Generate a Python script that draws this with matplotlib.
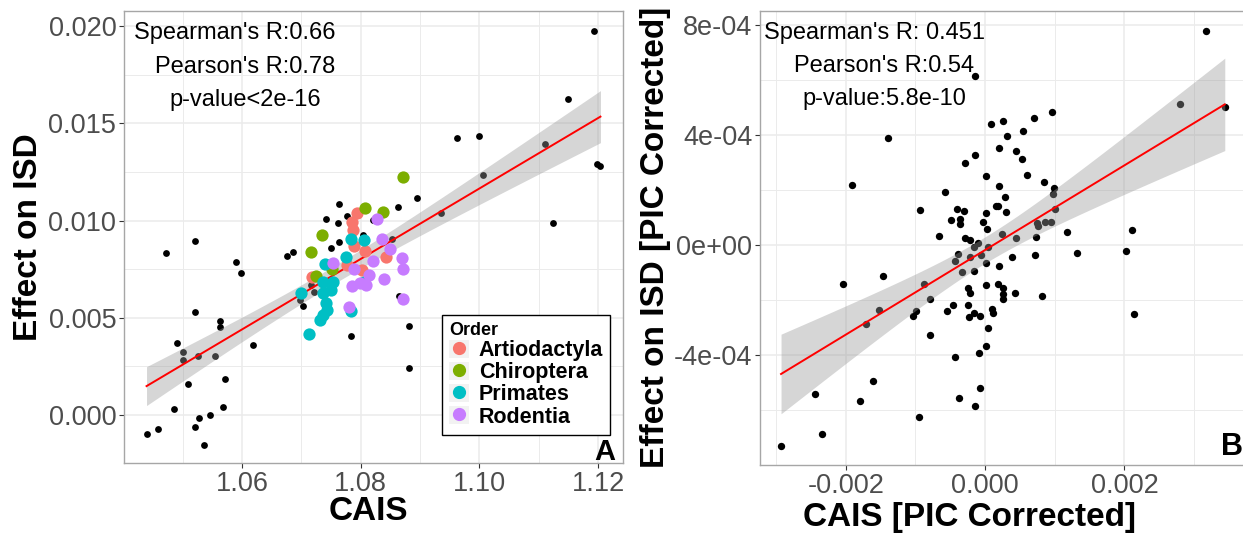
import numpy as np
import matplotlib
matplotlib.use('Agg')
import matplotlib.pyplot as plt
from matplotlib.lines import Line2D
from matplotlib.patches import Patch
from matplotlib.legend_handler import HandlerTuple
from matplotlib.ticker import MultipleLocator, FixedLocator, FixedFormatter, FormatStrFormatter

# ---- Panel A: raw values (black = other species) ----
cais_other = [1.0521, 1.0471, 1.0590, 1.0598, 1.0676, 1.0686, 1.0750, 1.0764, 1.0804, 1.0520,
              1.0562, 1.0562, 1.0491, 1.0501, 1.0501, 1.0526, 1.0554, 1.0619, 1.0509, 1.0572,
              1.0486, 1.0568, 1.0546, 1.0527, 1.0520, 1.0459, 1.0439, 1.0536, 1.0697, 1.0703,
              1.0721, 1.0716, 1.0783, 1.0763, 1.0741, 1.0762, 1.0776, 1.0894, 1.0862, 1.0820,
              1.0853, 1.0864, 1.0881, 1.0881, 1.1193, 1.1149, 1.0963, 1.0999, 1.1110, 1.1199,
              1.1204, 1.1006, 1.0935, 1.1124]
isd_other = [0.00895, 0.00834, 0.00785, 0.00730, 0.00817, 0.00840, 0.00859, 0.00889, 0.00927, 0.00528,
             0.00483, 0.00452, 0.00372, 0.00324, 0.00281, 0.00303, 0.00303, 0.00358, 0.00161, 0.00184,
             0.00031, 0.00041, -0.00002, -0.00015, -0.00060, -0.00074, -0.00096, -0.00156, 0.00591, 0.00559,
             0.00631, 0.00667, 0.00405, 0.01083, 0.01009, 0.00989, 0.01023, 0.01116, 0.01071, 0.01003,
             0.00906, 0.00612, 0.00458, 0.00243, 0.01974, 0.01625, 0.01424, 0.01433, 0.01392, 0.01290,
             0.01282, 0.01235, 0.01037, 0.00989]

# coloured orders
order_names = ['Artiodactyla', 'Chiroptera', 'Primates', 'Rodentia']
order_colors = ['#F8766D', '#7CAE00', '#00BFC4', '#C77CFF']
artio_x = [1.0793, 1.0786, 1.0787, 1.0788, 1.0808, 1.0776, 1.0802, 1.0842, 1.0718]
artio_y = [0.01041, 0.00994, 0.00949, 0.00869, 0.00845, 0.00771, 0.00746, 0.00810, 0.00708]
chiro_x = [1.0871, 1.0808, 1.0838, 1.0735, 1.0716, 1.0751, 1.0725]
chiro_y = [0.01224, 0.01062, 0.01045, 0.00925, 0.00839, 0.00752, 0.00717]
prim_x = [1.0783, 1.0806, 1.0775, 1.0739, 1.0806, 1.0736, 1.0753, 1.0750, 1.0736, 1.0700,
          1.0741, 1.0743, 1.0736, 1.0732, 1.0713, 1.0784]
prim_y = [0.00904, 0.00902, 0.00810, 0.00778, 0.00686, 0.00683, 0.00686, 0.00641, 0.00626, 0.00629,
          0.00577, 0.00542, 0.00514, 0.00487, 0.00416, 0.00533]
rod_x = [1.0828, 1.0836, 1.0849, 1.0820, 1.0870, 1.0871, 1.0814, 1.0839, 1.0785, 1.0798,
         1.0809, 1.0754, 1.0781, 1.0871, 1.0789]
rod_y = [0.01010, 0.00907, 0.00852, 0.00794, 0.00806, 0.00750, 0.00722, 0.00699, 0.00663, 0.00677,
         0.00666, 0.00783, 0.00553, 0.00595, 0.00749]

stats_a = ["Spearman's R:0.66", "Pearson's R:0.78", "p-value<2e-16"]

# ---- Panel B: PIC corrected values (x in 1e-3, y in 1e-4) ----
pic_cais_e3 = [-0.141, -1.386, 0.089, 0.251, 0.697, 0.955, 0.546, 0.313, 0.194, 0.441,
               -0.151, -0.287, 0.532, 0.007, 0.606, 0.851, 0.989, 0.207, -0.579, 0.287,
               0.977, -0.927, -0.402, -0.299, 0.151, 0.187, 0.302, 1.010, 0.017, -0.491,
               -0.366, -0.359, -0.033, 0.033, 0.749, 0.757, 0.855, 0.941, 1.171, -0.659,
               -0.283, -0.223, -0.098, -0.161, 0.046, 0.441, 0.733, 0.247, 2.109, 1.326,
               0.718, 0.389, -0.388, -0.434, -0.223, -0.065, 0.007, 0.194, -0.326, -0.161,
               -0.882, 0.017, 0.180, 0.260, -0.249, -0.211, 0.256, 0.427, 0.818, -0.787,
               0.254, -0.467, -0.546, -0.251, -0.161, -0.227, -0.075, 0.101, 0.108, -0.994,
               -1.034, 0.043, -0.790, 0.007, -0.089, -0.428, -0.075, -0.372, -0.148, -0.953,
               -2.043, -1.468, -1.707, -1.526, -2.440, -1.606, -1.799, -2.339, -2.928, 3.168,
               2.795, 3.441, -1.914, 2.029, 2.134]
pic_isd_e4 = [6.16, 3.88, 4.40, 4.50, 4.60, 4.83, 4.15, 3.95, 3.53, 3.43,
              3.27, 2.97, 3.13, 2.52, 2.55, 2.30, 2.07, 2.13, 1.91, 1.73,
              1.86, 1.29, 1.30, 1.22, 1.41, 1.42, 1.19, 1.30, 1.15, 0.92,
              0.95, 0.76, 0.84, 0.59, 0.80, 0.69, 0.84, 0.84, 0.47, 0.31,
              0.25, 0.17, 0.06, -0.06, -0.06, 0.26, 0.29, 0.39, 0.56, -0.30,
              -0.37, -0.43, -0.33, -0.57, -0.45, -0.37, -0.64, -0.75, -0.97, -0.93,
              -1.43, -1.44, -1.43, -1.55, -1.57, -1.76, -1.79, -1.73, -1.87, -1.96,
              -1.97, -2.19, -2.39, -2.19, -2.46, -2.62, -2.58, -2.31, -2.48, -2.39,
              -2.58, -3.01, -3.27, -3.66, -3.92, -4.07, -5.21, -5.56, -5.85, -6.25,
              -1.41, -1.12, -2.87, -2.35, -5.41, -4.95, -5.67, -6.86, -7.30, 7.78,
              5.12, 5.02, 2.19, -0.21, -2.52]

stats_b = ["Spearman's R: 0.451", "Pearson's R:0.54", "p-value:5.8e-10"]
b_yticks = [-4e-4, 0, 4e-4, 8e-4]
b_yticklabels = ['-4e-04', '0e+00', '4e-04', '8e-04']

plt.rcParams['font.family'] = ['Liberation Sans', 'DejaVu Sans']
plt.rcParams['axes.unicode_minus'] = False

TICK_SIZE = 19.5
LABEL_SIZE = 24
STAT_SIZE = 17


def add_lm_fit(ax, x, y, t_crit=1.98):
    # linear model with 95% confidence band, like geom_smooth(method='lm')
    slope, intercept = np.polyfit(x, y, 1)
    xs = np.linspace(x.min(), x.max(), 80)
    fit = intercept + slope * xs
    resid = y - (intercept + slope * x)
    n = len(x)
    s = np.sqrt(np.sum(resid ** 2) / (n - 2))
    se = s * np.sqrt(1.0 / n + (xs - x.mean()) ** 2 / np.sum((x - x.mean()) ** 2))
    ax.fill_between(xs, fit - t_crit * se, fit + t_crit * se, color='#999999', alpha=0.4, lw=0, zorder=3)
    ax.plot(xs, fit, color='red', lw=1.4, zorder=4)


def style_axes(ax):
    ax.grid(which='major', color='#EBEBEB', lw=1.1, zorder=0)
    ax.grid(which='minor', color='#EBEBEB', lw=0.7, zorder=0)
    ax.set_axisbelow(True)
    ax.tick_params(which='major', length=3.5, width=0.8, color='#333333',
                   labelcolor='#4D4D4D', labelsize=TICK_SIZE, pad=2)
    ax.tick_params(which='minor', length=0)
    for sp in ax.spines.values():
        sp.set_color('#A6A6A6')
        sp.set_linewidth(1.0)


fig = plt.figure(figsize=(12.43, 5.33), dpi=100)

# ---------------- Panel A ----------------
axA = fig.add_axes([124 / 1243, 70 / 533, 499 / 1243, 452.3 / 533])
xa = np.array(cais_other + artio_x + chiro_x + prim_x + rod_x)
ya = np.array(isd_other + artio_y + chiro_y + prim_y + rod_y)

axA.scatter(cais_other, isd_other, s=24, color='black', lw=0, zorder=2)
add_lm_fit(axA, xa, ya)
for name, col, xs_, ys_ in zip(order_names, order_colors,
                               [artio_x, chiro_x, prim_x, rod_x],
                               [artio_y, chiro_y, prim_y, rod_y]):
    axA.scatter(xs_, ys_, s=78, color=col, lw=0, zorder=5)

axA.set_xlim(1.0401, 1.1242)
axA.set_ylim(-0.00247, 0.02079)
axA.xaxis.set_major_locator(MultipleLocator(0.02))
axA.xaxis.set_minor_locator(MultipleLocator(0.01))
axA.yaxis.set_major_locator(MultipleLocator(0.005))
axA.yaxis.set_minor_locator(MultipleLocator(0.0025))
axA.xaxis.set_major_formatter(FormatStrFormatter('%.2f'))
axA.yaxis.set_major_formatter(FormatStrFormatter('%.3f'))
style_axes(axA)
axA.set_xlabel('CAIS', fontsize=LABEL_SIZE, fontweight='bold', va='center')
axA.set_ylabel('Effect on ISD', fontsize=LABEL_SIZE, fontweight='bold', va='center')
axA.xaxis.set_label_coords(0.49, -0.108)
axA.yaxis.set_label_coords(-0.192, 0.5)

for txt, px, py in zip(stats_a, [0.2224, 0.2425, 0.2439], [0.9507, 0.8755, 0.8026]):
    axA.text(px, py, txt, transform=axA.transAxes, ha='center', va='center', fontsize=STAT_SIZE, zorder=6)
axA.text(0.964, 0.024, 'A', transform=axA.transAxes, ha='center', va='center',
         fontsize=21, fontweight='bold', zorder=6)

handles = [(Patch(facecolor='#F2F2F2', edgecolor='none'),
            Line2D([], [], ls='', marker='o', ms=8.5, mfc=c, mec=c)) for c in order_colors]
leg = axA.legend(handles, order_names, handler_map={tuple: HandlerTuple(ndivide=1)},
                 title='Order', loc='upper left', bbox_to_anchor=(0.6367, 0.3272),
                 frameon=True, fancybox=False, edgecolor='black', framealpha=1,
                 prop={'weight': 'bold', 'size': 15.5},
                 title_fontproperties={'weight': 'bold', 'size': 13},
                 alignment='left', handlelength=0.95, handleheight=0.95,
                 handletextpad=0.45, labelspacing=0.02, borderpad=0.33, borderaxespad=0)
leg.get_frame().set_linewidth(1.0)
leg.set_zorder(10)

# ---------------- Panel B ----------------
axB = fig.add_axes([760 / 1243, 68 / 533, 487 / 1243, 454.3 / 533])
xb = np.array(pic_cais_e3) * 1e-3
yb = np.array(pic_isd_e4) * 1e-4
axB.scatter(xb, yb, s=28, color='black', lw=0, zorder=2)
add_lm_fit(axB, xb, yb)

axB.set_xlim(-0.00323, 0.00376)
axB.set_ylim(-8.0e-4, 8.52e-4)
axB.xaxis.set_major_locator(MultipleLocator(0.002))
axB.xaxis.set_minor_locator(MultipleLocator(0.001))
axB.xaxis.set_major_formatter(FormatStrFormatter('%.3f'))
axB.yaxis.set_major_locator(FixedLocator(b_yticks))
axB.yaxis.set_major_formatter(FixedFormatter(b_yticklabels))
axB.yaxis.set_minor_locator(MultipleLocator(2e-4))
style_axes(axB)
axB.set_xlabel('CAIS [PIC Corrected]', fontsize=LABEL_SIZE, fontweight='bold', va='center')
axB.set_ylabel('Effect on ISD [PIC Corrected]', fontsize=LABEL_SIZE, fontweight='bold', va='center')
axB.xaxis.set_label_coords(0.431, -0.1145)
axB.yaxis.set_label_coords(-0.2136, 0.5)

for txt, px, py in zip(stats_b, [0.2361, 0.2542, 0.2552], [0.9503, 0.8783, 0.8056]):
    axB.text(px, py, txt, transform=axB.transAxes, ha='center', va='center', fontsize=STAT_SIZE, zorder=6)
axB.text(0.9686, 0.040, 'B', transform=axB.transAxes, ha='center', va='center',
         fontsize=22, fontweight='bold', zorder=6)

plt.savefig('out.png', dpi=100)
